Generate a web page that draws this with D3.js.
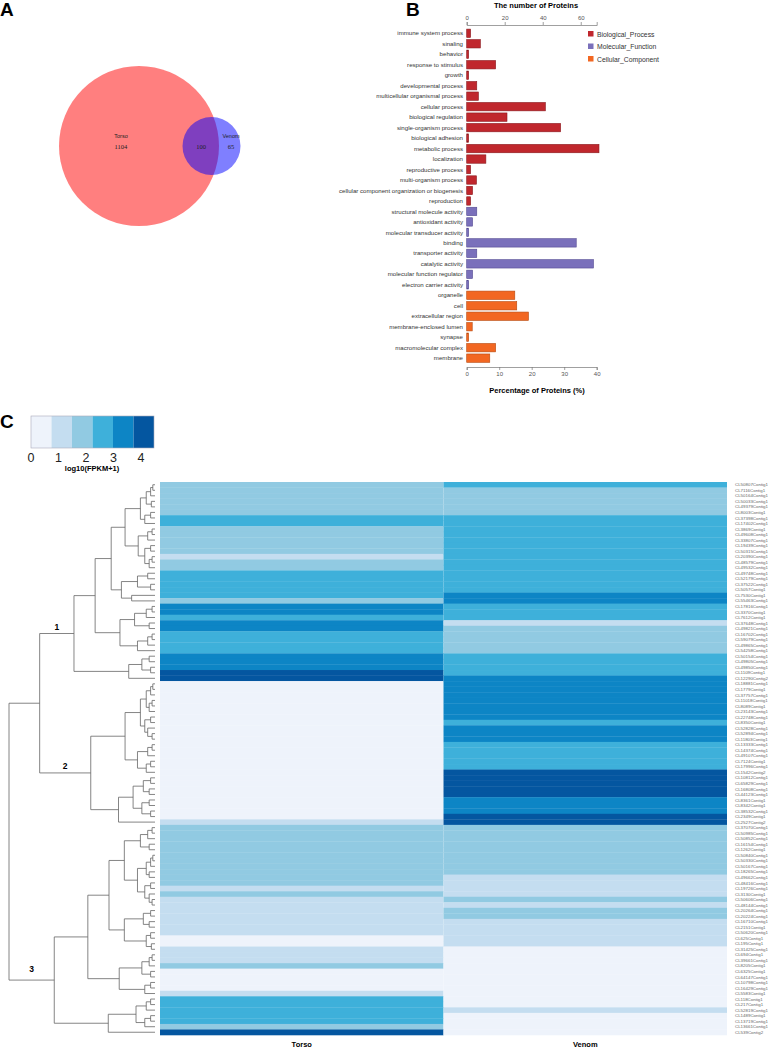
<!DOCTYPE html>
<html><head><meta charset="utf-8">
<script src="https://cdn.jsdelivr.net/npm/d3@7"></script>
<style>body{margin:0;background:#fff}svg{display:block;font-family:Arial,"Liberation Sans",sans-serif}</style>
</head><body><svg id="c" width="768" height="1049"></svg>
<script>
// ---------- Panel A data ----------
const vennSets = ["Torso", "Venom"];
const vennCounts = [1104, 100, 65]; // Torso only, shared, Venom only

// ---------- Panel B data ----------
const goCategories = ["immune system process","sinaling","behavior","response to stimulus","growth","developmental process","multicellular organismal process","cellular process","biological regulation","single-organism process","biological adhesion","metabolic process","localization","reproductive process","multi-organism process","cellular component organization or biogenesis","reproduction","structural molecule activity","antioxidant activity","molecular transducer activity","binding","transporter activity","catalytic activity","molecular function regulator","electron carrier activity","organelle","cell","extracellular region","membrane-enclosed lumen","synapse","macromolecular complex","membrane"];
const goGroups = ["BP","BP","BP","BP","BP","BP","BP","BP","BP","BP","BP","BP","BP","BP","BP","BP","BP","MF","MF","MF","MF","MF","MF","MF","MF","CC","CC","CC","CC","CC","CC","CC"];
const goPercent = [1.2,4.2,0.6,8.9,0.6,3.1,3.6,24.2,12.4,28.9,0.6,40.7,5.9,1.2,3.0,1.8,1.2,3.1,1.8,0.6,33.7,3.1,39.0,1.8,0.6,14.8,15.4,19.0,1.7,0.6,8.9,7.1];
const groupNames = ["Biological_Process","Molecular_Function","Cellular_Component"];
const totalProteins = 171;
const topTicks = [0,20,40,60];
const bottomTicks = [0,10,20,30,40];

// ---------- Panel C data ----------
const geneIds = ["CL50807Contig1","CL7116Contig1","CL50164Contig1","CL50033Contig1","CL49379Contig1","CL8003Contig1","CL37398Contig1","CL17402Contig1","CL3869Contig1","CL49608Contig1","CL33807Contig1","CL19439Contig1","CL50315Contig1","CL20390Contig1","CL48579Contig1","CL49532Contig1","CL49748Contig1","CL52179Contig1","CL37522Contig1","CL5057Contig1","CL7530Contig1","CL55463Contig1","CL17816Contig1","CL3370Contig1","CL7612Contig1","CL37648Contig1","CL49821Contig1","CL16702Contig1","CL59079Contig1","CL49865Contig1","CL54258Contig1","CL50154Contig1","CL49805Contig1","CL49850Contig1","CL1109Contig1","CL12290Contig2","CL18881Contig1","CL1779Contig1","CL37757Contig1","CL11018Contig1","CL8089Contig1","CL23143Contig1","CL22748Contig1","CL8350Contig1","CL52828Contig1","CL52894Contig1","CL11803Contig1","CL13333Contig1","CL14374Contig1","CL49107Contig1","CL7124Contig1","CL17996Contig1","CL1542Contig2","CL10812Contig1","CL65829Contig1","CL16808Contig1","CL44123Contig1","CL8361Contig1","CL8342Contig1","CL38532Contig1","CL2349Contig1","CL2527Contig2","CL37070Contig1","CL50985Contig1","CL50852Contig1","CL16154Contig1","CL1262Contig1","CL50840Contig1","CL50330Contig1","CL50167Contig1","CL18265Contig1","CL49662Contig1","CL48416Contig1","CL19726Contig1","CL3130Contig1","CL50606Contig1","CL48144Contig1","CL20264Contig1","CL20224Contig1","CL16710Contig1","CL2151Contig1","CL50620Contig1","CL625Contig1","CL195Contig1","CL31425Contig1","CL694Contig1","CL39661Contig1","CL8205Contig1","CL6325Contig1","CL64147Contig1","CL10798Contig1","CL16429Contig1","CL5583Contig1","CL118Contig1","CL217Contig1","CL52819Contig1","CL1489Contig1","CL13719Contig1","CL13661Contig1","CL539Contig2"];
const samples = ["Torso","Venom"];
const torsoLog = [1.85,1.90,1.78,1.95,1.82,1.88,2.62,2.70,1.92,1.86,1.80,1.97,1.84,1.25,1.79,1.90,2.55,2.68,2.60,2.74,2.58,2.05,3.30,3.42,2.80,3.35,3.28,2.66,2.58,2.71,2.63,3.40,3.22,3.31,3.95,4.10,
0.12,0.20,0.08,0.15,0.25,0.10,0.18,0.05,0.22,0.14,0.09,0.30,0.16,0.11,0.07,0.19,0.24,0.13,0.06,0.21,0.17,0.10,0.28,0.15,0.12,0.95,
1.70,1.76,1.68,1.81,1.74,1.66,1.72,1.79,1.69,1.75,1.71,1.20,1.72,1.10,1.05,1.18,1.12,0.98,1.15,1.08,0.35,0.28,1.02,1.14,1.09,1.65,0.22,0.31,0.18,0.40,1.00,2.72,2.65,2.78,2.60,2.69,2.10,4.05];
const venomLog = [2.70,1.95,2.05,1.88,2.00,1.92,2.75,2.68,2.80,2.62,2.71,2.66,2.59,2.77,2.64,2.70,2.73,2.61,2.69,2.82,3.25,3.18,2.88,2.74,2.67,1.40,2.10,1.95,1.87,2.02,1.98,2.85,2.76,2.70,2.90,
3.30,3.45,3.38,3.52,3.27,3.40,3.34,3.48,2.92,3.36,3.29,3.44,2.86,2.79,2.94,2.83,2.88,3.95,4.12,4.05,3.88,4.20,3.50,3.42,3.57,4.00,3.92,
1.85,1.92,1.80,1.88,1.95,1.83,1.90,1.78,1.86,1.30,1.22,1.35,1.27,1.62,1.33,1.70,1.66,1.28,1.19,1.31,1.24,1.36,0.15,0.22,0.10,0.30,0.18,0.25,0.12,0.35,0.20,0.08,0.27,0.90,0.14,0.21,0.11,0.19];
const legendTicks = [0,1,2,3,4];
const heatColors = ["#eef3fb","#c4ddf0","#91cae2","#3eb0da","#0d85c5","#0456a0"];
// dendrogram: [height, left, right]; leaves are row indices
const cluster1 = [55.5,
  [41,
    [30,
      [20.5,
        [10,[6,[3,[1.5,0,1],2],[2.5,3,4]],[7,[3,5,6],7]],
        [11.5,[5,[2,8,9],10],[7,[3,11,12],[4,[2,13,14],15]]]],
      [23,[12,[5,16,17],[3,18,19]],[16,20,21]]],
    [24,[14,[6,[2,22,23],24],[4,25,26]],[12,[5,[2,27,28],29],30]]],
  [18,[9,[4,31,32],[3,33,34]],35]];
const cluster2 = [44,
  [20.5,
    [10,[6,[3,[1.5,36,37],38],[4,[2,39,40],41]],[7,[3,42,43],[5,44,[2,45,46]]]],
    [12,[5,[2,47,48],49],[6,[3,50,51],52]]],
  [25,[15,[8,[3,53,54],[4,55,56]],[9,[4,57,58],[3,59,60]]],61]];
const cluster3 = [69,
  [46,
    [31.5,
      [21,[10,[5,[2,62,63],64],[4,65,66]],[12,[6,[3,[1.5,67,68],69],[4,70,71]],[7,[3,72,73],[4,74,[2,75,76]]]]],
      [21,[8,[3,77,78],[4,79,80]],[6,[3,81,82],[2.5,83,84]]]],
    [24.5,[9,[4,[2,85,86],87],[3,88,89]],[7,[3,90,91],92]]],
  [32,[13,[6,[3,93,94],95],[7,[3,96,97],98]],99]];
const tree = [100,[79,cluster1,cluster2],cluster3];
const clusterNames = ["1","2","3"];

const svg = d3.select("#c");
const bold = (s, x, y, t, size, anchor) => s.append("text").attr("x",x).attr("y",y).attr("font-size",size).attr("font-weight","bold").attr("text-anchor",anchor||"start").attr("fill","#000").text(t);

// ================= Panel A =================
bold(svg, 0, 16, "A", 19);
const vx = d3.scaleLinear().domain([0,1]).range([139, 211.5]);
const rScale = d3.scaleSqrt().domain([0, vennCounts[0]+vennCounts[1]]).range([0, 80]);
const rT = rScale(vennCounts[0]+vennCounts[1]);
const rV = 29;
svg.append("circle").attr("cx",vx(0)).attr("cy",146).attr("r",rT).attr("fill","#ff0000").attr("fill-opacity",0.5);
svg.append("circle").attr("cx",vx(1)).attr("cy",146).attr("r",rV).attr("fill","#0000ff").attr("fill-opacity",0.5);
const gA = svg.append("g").attr("fill","#222");
gA.append("text").attr("x",121).attr("y",138).attr("font-size",5.5).attr("text-anchor","middle").text(vennSets[0]);
gA.append("text").attr("x",121).attr("y",149).attr("font-size",6.5).attr("font-family","Liberation Serif, serif").attr("text-anchor","middle").text(vennCounts[0]);
gA.append("text").attr("x",201).attr("y",149).attr("font-size",6.5).attr("font-family","Liberation Serif, serif").attr("text-anchor","middle").text(vennCounts[1]);
gA.append("text").attr("x",231).attr("y",138).attr("font-size",5.5).attr("text-anchor","middle").text(vennSets[1]);
gA.append("text").attr("x",231).attr("y",149).attr("font-size",6.5).attr("font-family","Liberation Serif, serif").attr("text-anchor","middle").text(vennCounts[2]);

// ================= Panel B =================
bold(svg, 406, 16, "B", 19);
const xPct = d3.scaleLinear().domain([0,40]).range([466.7, 596.7]);
const xCnt = d3.scaleLinear().domain([0, 40*totalProteins/100]).range([466.7, 596.7]);
const yB = d3.scaleBand().domain(goCategories).range([28.06, 363.4]).paddingInner(0.2).paddingOuter(0.1);
const gColor = {BP:"#c0272d", MF:"#7a70bb", CC:"#f26722"};
const gStroke = {BP:"#8a1a1f", MF:"#544a92", CC:"#b74a10"};
svg.append("g").selectAll("rect").data(goCategories).join("rect")
  .attr("x", xPct(0)).attr("y", d => yB(d)).attr("height", yB.bandwidth())
  .attr("width", (d,i) => xPct(goPercent[i]) - xPct(0))
  .attr("fill", (d,i) => gColor[goGroups[i]]).attr("stroke", (d,i) => gStroke[goGroups[i]]).attr("stroke-width",0.6);
svg.append("g").selectAll("text").data(goCategories).join("text")
  .attr("x", 463).attr("y", d => yB(d) + yB.bandwidth()/2 + 2.1).attr("text-anchor","end")
  .attr("font-size", 6.1).attr("fill","#333").text(d => d);
const topAx = svg.append("g").attr("transform","translate(0,25)").call(d3.axisTop(xCnt).tickValues(topTicks).tickSize(3).tickPadding(2));
const botAx = svg.append("g").attr("transform","translate(0,367)").call(d3.axisBottom(xPct).tickValues(bottomTicks).tickSize(3).tickPadding(2));
[topAx, botAx].forEach(a => { a.selectAll("path,line").attr("stroke","#777").attr("stroke-width",0.7); a.selectAll("text").attr("font-size",6).attr("fill","#555").attr("font-family","Arial, sans-serif"); });
bold(svg, 536, 8, "The number of Proteins", 7.5, "middle");
bold(svg, 537, 393, "Percentage of Proteins (%)", 7.5, "middle");
const legB = svg.append("g");
groupNames.forEach((n,i) => {
  const k = ["BP","MF","CC"][i];
  legB.append("rect").attr("x",588).attr("y",31 + i*12.5).attr("width",5.5).attr("height",5.5).attr("fill",gColor[k]);
  legB.append("text").attr("x",597).attr("y",36.5 + i*12.5).attr("font-size",6.8).attr("fill","#333").text(n);
});

// ================= Panel C =================
bold(svg, 0, 428, "C", 19);
const legScale = d3.scaleLinear().domain([0, 4.47]).range([31, 154]);
const colorQ = d3.scaleQuantize().domain([0, 4.47]).range(heatColors);
const legG = svg.append("g");
legG.selectAll("rect").data(heatColors).join("rect")
  .attr("x", c => legScale(colorQ.invertExtent(c)[0])).attr("y", 416)
  .attr("width", c => legScale(colorQ.invertExtent(c)[1]) - legScale(colorQ.invertExtent(c)[0])).attr("height", 32)
  .attr("fill", c => c);
legG.append("rect").attr("x",31).attr("y",416).attr("width",123).attr("height",32).attr("fill","none").attr("stroke","#aab").attr("stroke-width",0.6);
legG.selectAll("text.t").data(legendTicks).join("text").attr("class","t")
  .attr("x", d => legScale(d)).attr("y", 462).attr("text-anchor","middle").attr("font-size",12.5).attr("fill","#222").text(d => d);
bold(svg, 92, 471, "log10(FPKM+1)", 7.5, "middle");

const yH = d3.scaleBand().domain(d3.range(geneIds.length)).range([482, 1035]);
const xH = d3.scaleBand().domain(samples).range([160, 727]);
const cells = [];
geneIds.forEach((g,i) => { cells.push({s:"Torso", r:i, v:torsoLog[i]}); cells.push({s:"Venom", r:i, v:venomLog[i]}); });
svg.append("g").selectAll("rect").data(cells).join("rect")
  .attr("x", d => xH(d.s)).attr("y", d => yH(d.r)).attr("width", xH.bandwidth()).attr("height", yH.bandwidth() + 0.3)
  .attr("fill", d => colorQ(d.v));
svg.append("g").selectAll("text").data(geneIds).join("text")
  .attr("x", 735).attr("y", (d,i) => yH(i) + yH.bandwidth()/2 + 1.6)
  .attr("font-size", 4.4).attr("fill","#666").text(d => d);
samples.forEach(s => bold(svg, xH(s) + xH.bandwidth()/2, 1047, s, 7.5, "middle"));

// dendrogram
const xD = d3.scaleLinear().domain([0, 100]).range([155, 9]);
const dG = svg.append("g").attr("stroke","#666").attr("stroke-width",0.8).attr("fill","none");
function draw(node) {
  if (typeof node === "number") return {x: xD(0), y: yH(node) + yH.bandwidth()/2};
  const a = draw(node[1]), b = draw(node[2]);
  const x = xD(node[0]);
  dG.append("path").attr("d", `M${a.x},${a.y}H${x}V${b.y}H${b.x}`);
  return {x, y: (a.y + b.y)/2};
}
draw(tree);
// cluster labels
function pos(node){ if (typeof node === "number") return yH(node)+yH.bandwidth()/2; return (pos(node[1])+pos(node[2]))/2; }
[cluster1, cluster2, cluster3].forEach((c,i) => {
  const parentX = i < 2 ? xD(79) : xD(100);
  const cx = (parentX + xD(c[0]))/2;
  bold(svg, cx, pos(c) - (i === 2 ? 8 : 4), clusterNames[i], 8.5, "middle");
});
</script></body></html>
